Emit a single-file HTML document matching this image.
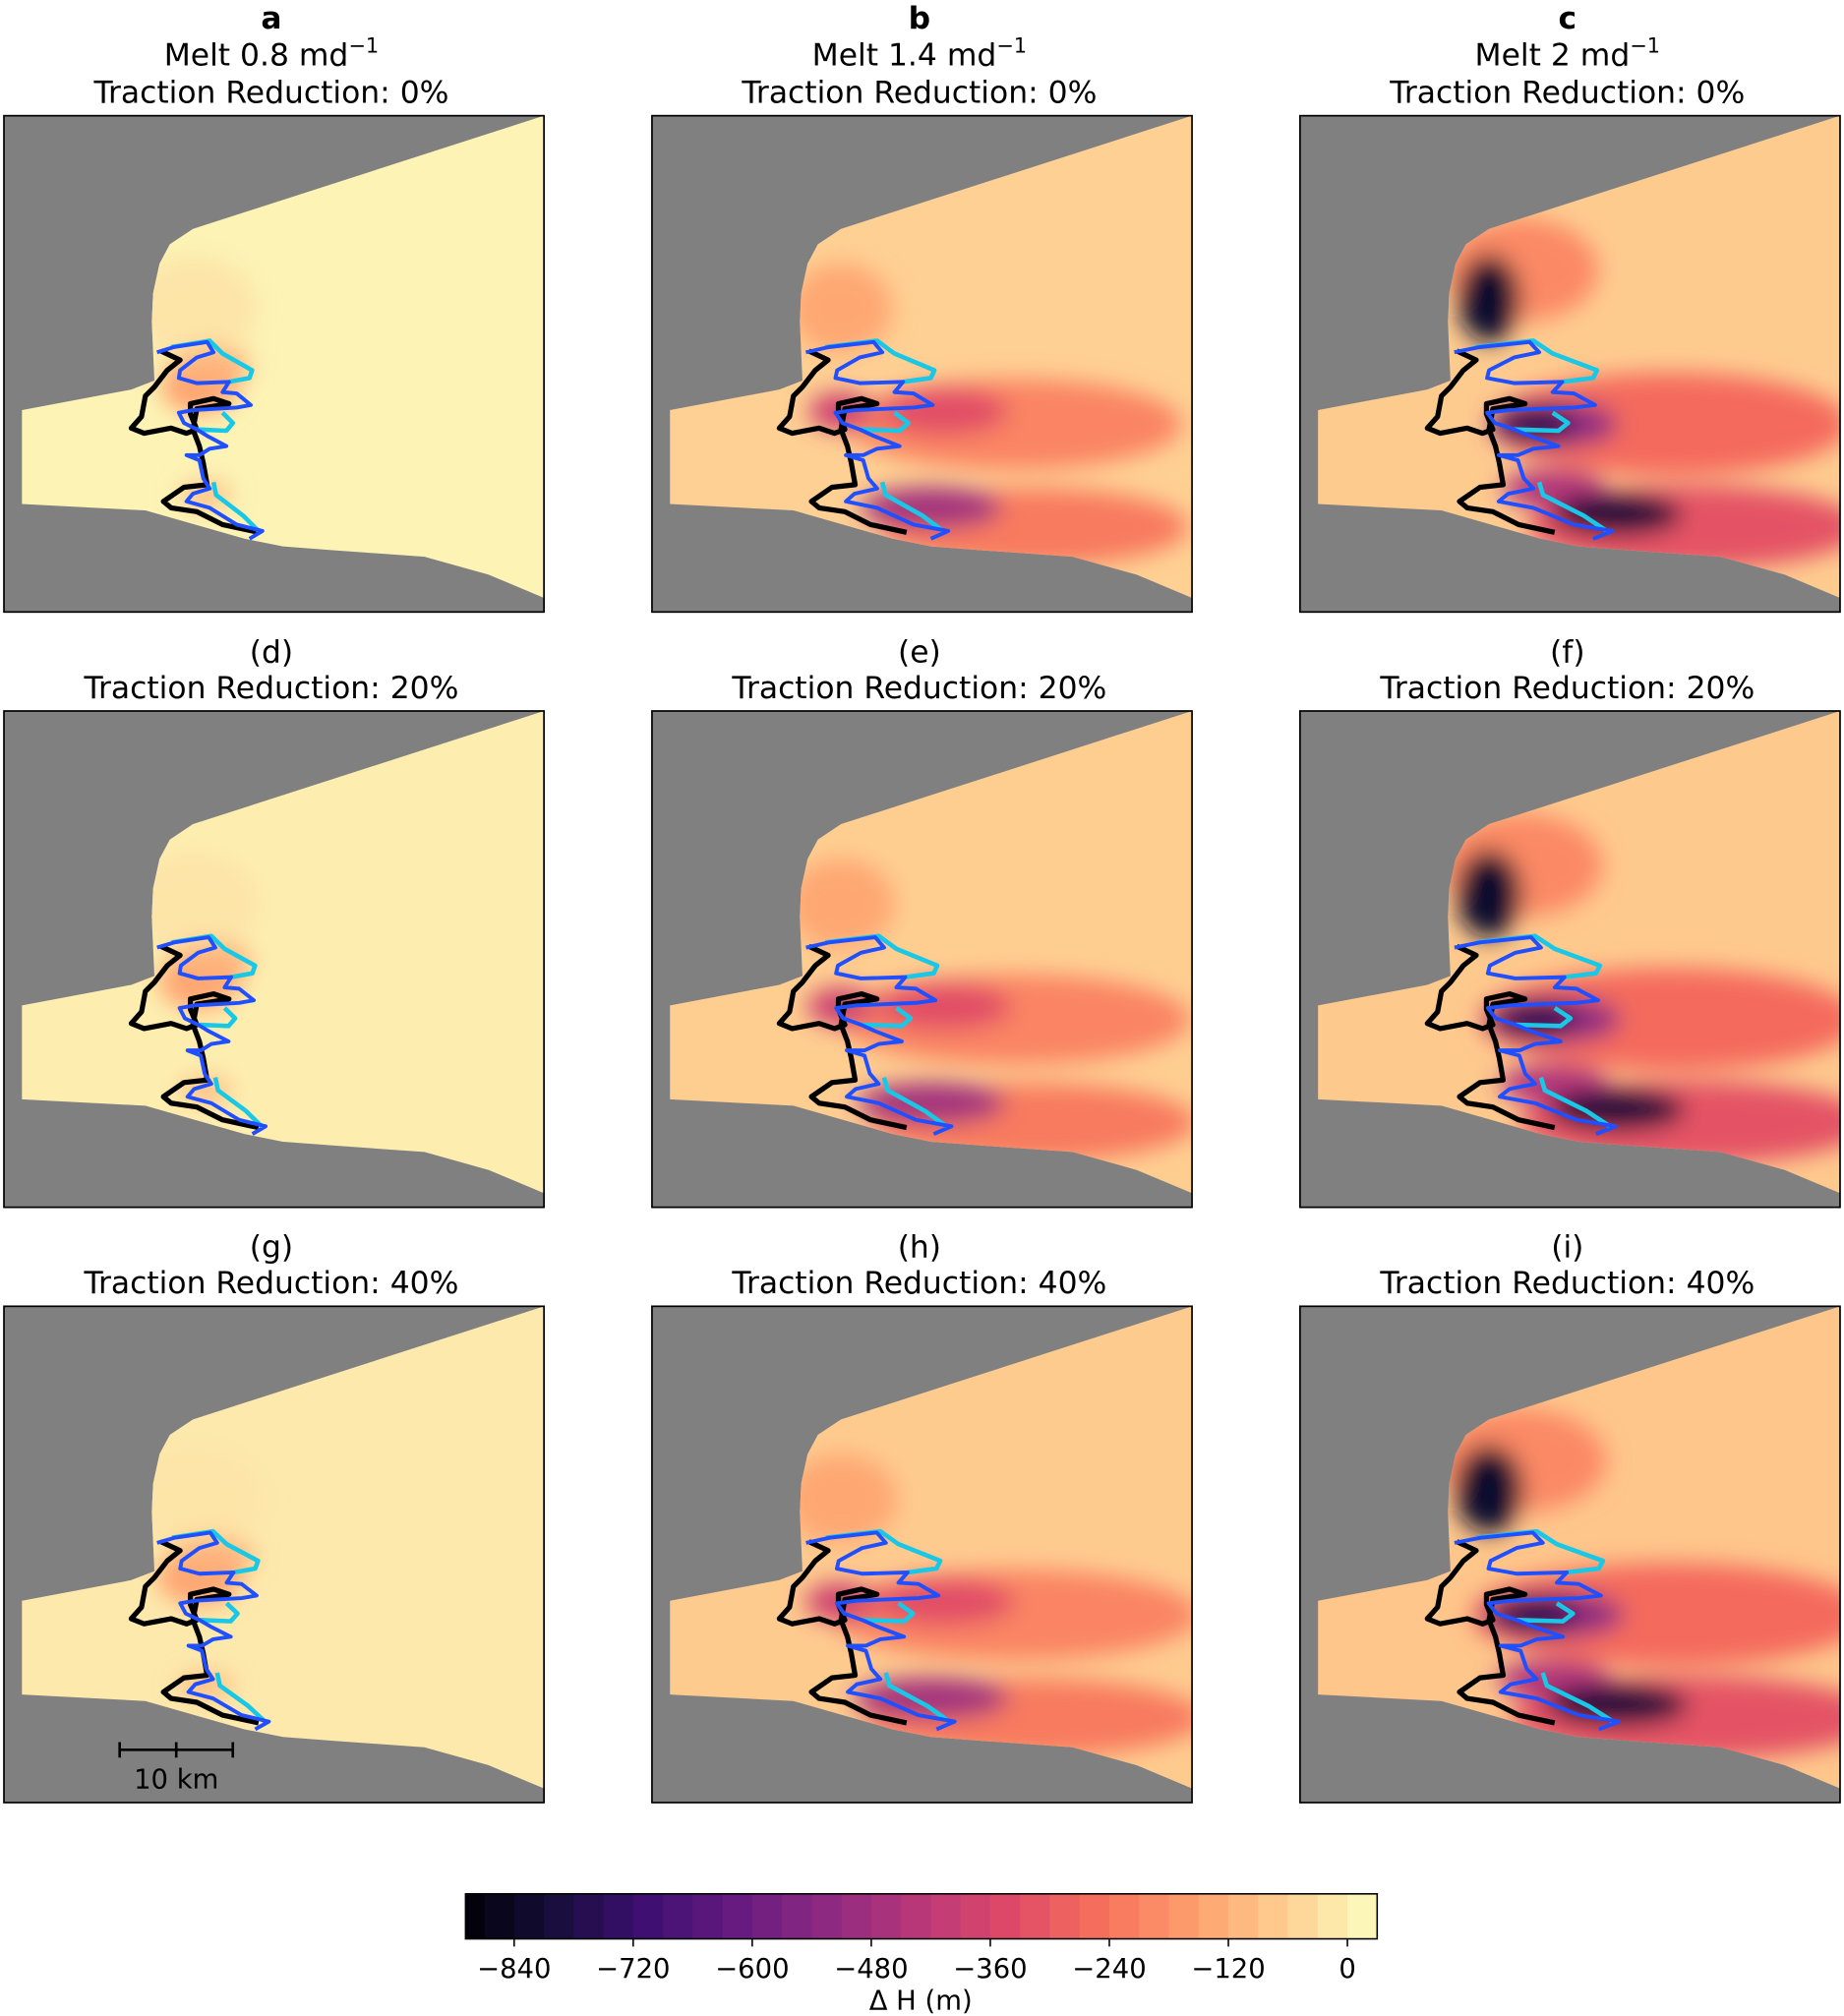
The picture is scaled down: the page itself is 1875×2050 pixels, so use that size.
<!DOCTYPE html>
<html><head><meta charset="utf-8"><style>
html,body{margin:0;padding:0;background:#fff}
svg{display:block}
text{font-family:"DejaVu Sans","Liberation Sans",sans-serif;fill:#000}
</style></head><body>
<svg id="fig" width="1875" height="2050" viewBox="0 0 1434 1568" xmlns="http://www.w3.org/2000/svg">
<defs>
<filter id="blur" x="-50%" y="-50%" width="200%" height="200%"><feGaussianBlur stdDeviation="9"/></filter>
<clipPath id="shapeClip"><polygon points="17,319 102,303 120,296 118,250 119,228 124,205 132,190 150,178 423,90 423,465 380,447 330,433 260,428 220,425 190,419 113,397 17,392"/></clipPath>
</defs>
<g id="panels"></g>
<g id="colorbar"></g>
</svg>
<script>
// Colorbar data
const cbLevels = [];
for (let v = -900; v < 30; v += 30) cbLevels.push(v);
const cbTicks = [-840, -720, -600, -480, -360, -240, -120, 0];
const cbMin = -889, cbMax = 30;
// Panel data
const panelLetters = ['a','b','c','(d)','(e)','(f)','(g)','(h)','(i)'];
const meltRates = ['0.8','1.4','2'];
const tractionReductions = [0, 20, 40];
const baseValues = [10, -60, -70, 0, -65, -75, -10, -70, -80];
// blobs: [cx, cy, rx, ry, deltaH] in panel-a coordinates
const blobsA = [[150,240,50,40,-20],[155,300,30,22,-150],[165,285,30,15,-120],[160,385,20,10,-100]];
const blobsB = [[150,240,40,35,-140],[285,330,130,35,-210],[300,410,120,30,-230],[150,320,25,15,-380],[230,320,50,18,-330],[220,395,55,16,-480]];
const blobsC = [[175,210,60,40,-200],[290,330,140,40,-260],[310,410,130,32,-320],[200,330,50,18,-520],[200,380,40,15,-450],[150,232,24,34,-820],[185,330,30,14,-760],[250,400,50,16,-800]];
const blobSets = [blobsA, blobsB, blobsC];
const contourStretch = [1.0, 1.35, 1.5];

const NS = 'http://www.w3.org/2000/svg';
const magma = [[0,0,4],[20,14,54],[59,15,112],[100,26,128],[140,41,129],[183,55,121],[222,73,104],[247,112,92],[254,159,109],[254,207,146],[252,253,191]];
function color(v){
  let t = (v - (-900)) / 930; t = Math.max(0, Math.min(1, t));
  const p = t * 10, i = Math.min(9, Math.floor(p)), f = p - i;
  const a = magma[i], b = magma[i+1];
  return 'rgb(' + a.map((c,k)=>Math.round(c + (b[k]-c)*f)).join(',') + ')';
}
function el(tag, attrs, parent){
  const e = document.createElementNS(NS, tag);
  for (const k in attrs) e.setAttribute(k, attrs[k]);
  if (parent) parent.appendChild(e);
  return e;
}
const shapePts = "17,319 102,303 120,296 118,250 119,228 124,205 132,190 150,178 423,90 423,465 380,447 330,433 260,428 220,425 190,419 113,397 17,392";
const blackLine = [[125,273],[140,280],[130,288],[120,301],[113,308],[110,324],[102,333],[112,337],[133,333],[145,337],[153,334],[148,322],[148,314],[166,310],[178,314],[166,316],[153,318],[150,334],[155,347],[158,360],[161,377],[143,379],[127,390],[133,395],[153,398],[173,408],[201,414]];
const blueLine = [[122,274],[135,270],[161,266],[166,274],[153,278],[140,288],[139,294],[153,298],[178,297],[173,305],[184,306],[195,315],[184,317],[150,319],[139,321],[143,329],[153,334],[161,339],[176,347],[163,349],[155,354],[145,354],[155,358],[158,372],[163,380],[150,384],[145,390],[163,395],[184,408],[204,413],[194,419]];
const cyanLines = [[[133,270],[163,265],[173,275],[196,288],[194,294],[178,297]],[[173,321],[181,329],[176,335],[153,334]],[[166,375],[168,385],[189,401],[201,413]]];
function ptsStr(arr, s){ return arr.map(p=>[(120 + (p[0]-120)*s).toFixed(1), p[1]].join(',')).join(' '); }

const panelsG = document.getElementById('panels');
const colX = [0, 504, 1008], rowY = [0, 463, 926];
for (let r = 0; r < 3; r++) for (let c = 0; c < 3; c++) {
  const idx = r*3 + c;
  const g = el('g', {transform: 'translate(' + colX[c] + ',' + rowY[r] + ')'}, panelsG);
  
  
  if (r === 0) {
    const t1 = el('text', {x: 211, y: 22, 'text-anchor': 'middle', 'font-size': 24, 'font-weight': 'bold'}, g);
    t1.textContent = panelLetters[idx];
    
    
    const t2 = el('text', {x: 211, y: 51, 'text-anchor': 'middle', 'font-size': 24}, g);
    
    
    t2.textContent = 'Melt ' + meltRates[c] + ' md';
    const sup = el('tspan', {dy: -10, 'font-size': 16}, t2); sup.textContent = '\u22121';
  } else {
    const t1 = el('text', {x: 211, y: 52, 'text-anchor': 'middle', 'font-size': 24}, g);
    
    
    t1.textContent = panelLetters[idx];
  }
  const t3 = el('text', {x: 211, y: 80, 'text-anchor': 'middle', 'font-size': 24}, g);
  
  
  t3.textContent = 'Traction Reduction: ' + tractionReductions[r] + '%';
  const bg = el('rect', {x: 3, y: 90, width: 420, height: 386, fill: '#808080'}, g);
  
  
  const ice = el('polygon', {points: shapePts, fill: color(baseValues[idx])}, g);
  
  
  const bl = el('g', {'clip-path': 'url(#shapeClip)'}, g);
  const bl2 = el('g', {filter: 'url(#blur)'}, bl);
  const rowScale = 1 + r*0.05;
  blobSets[c].forEach(b => {
    const e = el('ellipse', {cx: b[0], cy: b[1], rx: b[2]*rowScale, ry: b[3], fill: color(b[4])}, bl2);
    
    
  });
  const s = contourStretch[c] + r*0.03;
  const blk = el('polyline', {points: ptsStr(blackLine, 1), fill: 'none', stroke: '#000', 'stroke-width': 4, 'stroke-linejoin': 'round'}, g);
  
  
  cyanLines.forEach(cl => {
    const cy = el('polyline', {points: ptsStr(cl, s), fill: 'none', stroke: '#19c8e6', 'stroke-width': 3.5, 'stroke-linejoin': 'round'}, g);
    
    
  });
  const blu = el('polyline', {points: ptsStr(blueLine, s), fill: 'none', stroke: '#1f4fff', 'stroke-width': 3, 'stroke-linejoin': 'round'}, g);
  
  
  const fr = el('rect', {x: 3, y: 90, width: 420, height: 386, fill: 'none', stroke: '#000', 'stroke-width': 1.3}, g);
  
  
  if (idx === 6) {
    const sb = el('g', {}, g);
    
    
    el('path', {d: 'M93,435 H181 M93,429 V441 M137,429 V441 M181,429 V441', stroke: '#000', 'stroke-width': 2, fill: 'none'}, sb);
    const st = el('text', {x: 137, y: 465, 'text-anchor': 'middle', 'font-size': 21}, sb);
    st.textContent = '10 km';
  }
}
const cb = document.getElementById('colorbar');
const cbX0 = 362, cbX1 = 1071, cbY = 1473, cbH = 35;
function xScale(v){ return cbX0 + (v - cbMin) / (cbMax - cbMin) * (cbX1 - cbX0); }
cbLevels.forEach(v => {
  const a = Math.max(v, cbMin), b = Math.min(v + 30, cbMax);
  if (b <= a) return;
  const r = el('rect', {x: xScale(a), y: cbY, width: xScale(b) - xScale(a) + 0.6, height: cbH, fill: color(v + 15)}, cb);
  
  
});
el('rect', {x: cbX0, y: cbY, width: cbX1 - cbX0, height: cbH, fill: 'none', stroke: '#000', 'stroke-width': 1.2}, cb);
cbTicks.forEach(t => {
  const x = xScale(t);
  el('line', {x1: x, x2: x, y1: cbY + cbH, y2: cbY + cbH + 6, stroke: '#000', 'stroke-width': 1.2}, cb);
  const tx = el('text', {x: x, y: cbY + cbH + 30, 'text-anchor': 'middle', 'font-size': 21}, cb);
  
  
  tx.textContent = (t < 0 ? '\u2212' + (-t) : String(t));
});
const lab = el('text', {x: 716, y: 1563, 'text-anchor': 'middle', 'font-size': 21}, cb);


lab.textContent = '\u0394 H (m)';
</script>
</body></html>
